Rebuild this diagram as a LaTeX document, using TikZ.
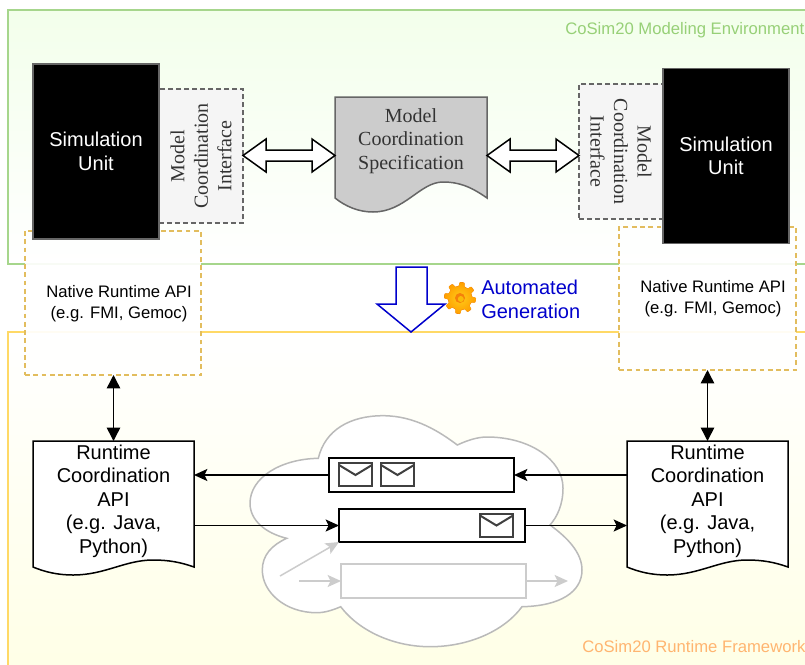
\documentclass[tikz,border=0pt]{standalone}
\usepackage{fontspec}
\setmainfont{Liberation Sans}
\newfontfamily\serifx{Liberation Serif}
\usetikzlibrary{arrows.meta,calc}
\definecolor{grn}{HTML}{A6D68C}
\definecolor{grntxt}{HTML}{97D077}
\definecolor{ylw}{HTML}{FFD966}
\definecolor{orgtxt}{HTML}{FFB570}
\definecolor{gold}{HTML}{E2BD5E}
\definecolor{dgray}{HTML}{666666}
\definecolor{ltgray}{HTML}{CCCCCC}
\definecolor{ifill}{HTML}{F5F5F5}
\definecolor{txt}{HTML}{333333}
\definecolor{blu}{HTML}{0000CC}
\tikzset{
  sz/.style 2 args={minimum width=#1*0.75pt,minimum height=#2*0.75pt,inner sep=0pt,outer sep=0pt},
  px/.style={line width=#1*0.75pt},
  native/.style={draw=gold,px=1.5,dash pattern=on 3.6pt off 2.6pt,fill=white,fill opacity=.92,draw opacity=1},
  simunit/.style={draw=dgray,px=1.5,fill=black,text=white,align=center,font=\fontsize{15}{17.6}\selectfont},
  iface/.style={draw=dgray,px=1.5,dash pattern=on 3.4pt off 2.6pt,fill=ifill},
  ifacetxt/.style={text=txt,align=center,inner sep=0pt,font=\serifx\fontsize{15}{17.6}\selectfont},
  small/.style={align=center,inner sep=0pt,font=\fontsize{12.5}{15.5}\selectfont},
  doctxt/.style={align=center,inner sep=0pt,font=\fontsize{15}{17.6}\selectfont},
  docbody/.style={draw=black,px=1.5,fill=white},
  flow/.style={draw=black,px=1.5,-{Stealth[length=10pt,width=9pt,inset=2.2pt]}},
  bothway/.style={draw=black,px=1.5,{Triangle[length=10pt,width=10pt]}-{Triangle[length=10pt,width=10pt]}},
  grayflow/.style={draw=ltgray,px=1.5,-{Stealth[length=10pt,width=9pt,inset=2.2pt]}},
  queue/.style={draw=black,px=1.5,fill=white},
  envbox/.style={draw=black!75,px=2,fill=white},
  hollow/.style={draw=black,px=1.5,fill=white,line join=miter},
  envtitle/.style={inner sep=0pt,font=\fontsize{12.5}{15}\selectfont},
}
\newcommand{\hollowarrow}[2]{%
  \draw[hollow] (#1) -- ++(23,-16.5) -- ++(0,11) -- ($(#2)+(-23,-5.5)$) -- ++(0,-11) -- (#2)
    -- ++(-23,16.5) -- ++(0,-11) -- ($(#1)+(23,5.5)$) -- ++(0,11) -- cycle;}
\newcommand{\envelope}[2]{%
  \node[envbox,sz={33}{23}] (#1) at (#2) {};
  \draw[draw=black!75,px=2] ($(#1.north west)+(0,2)$) -- ($(#1.center)+(0,0.5)$) -- ($(#1.north east)+(0,2)$);}
\begin{document}
\begin{tikzpicture}[x=0.75pt,y=-0.75pt]
\clip (0,0) rectangle (805,664);
\fill[white] (0,0) rectangle (805,664);
% environments
\path[draw=grn,px=1.8,top color=green!5!white!97!yellow,bottom color=white] (8,10) rectangle (815,264);
\path[draw=ylw,px=1.8,top color=white,bottom color=yellow!10!white] (8,332) rectangle (815,680);
\node[envtitle,text=grntxt,anchor=west] (titleA) at (565,30) {CoSim20 Modeling Environment};
\node[envtitle,text=orgtxt,anchor=west] (titleB) at (582,647) {CoSim20 Runtime Framework};
% native
\node[native,sz={176}{144}] (natL) at (113,303) {};
\node[native,sz={177}{143}] (natR) at (707.5,298.5) {};
\node[small] (natLt) at (119,304) {Native Runtime API\\(e.g. FMI, Gemoc)};
\node[small] (natRt) at (713,299) {Native Runtime API\\(e.g. FMI, Gemoc)};
% interfaces
\node[iface,sz={84}{134}] (ifL) at (201,156) {};
\node[iface,sz={84}{135}] (ifR) at (621,151.5) {};
\node[ifacetxt,rotate=90] (ifLt) at (ifL.center) {Model\\Coordination\\Interface};
\node[ifacetxt,rotate=-90] (ifRt) at (ifR.center) {Model\\Coordination\\Interface};
% simulation units
\node[simunit,sz={126}{175}] (simL) at (96,151.5) {Simulation\\Unit};
\node[simunit,sz={126}{175}] (simR) at (726,156) {Simulation\\Unit};
% specification document
\node[sz={152}{88}] (spec) at (411,141) {};
\draw[draw=dgray,px=1.5,fill=ltgray] (spec.north west) -- (spec.north east) -- (487,198)
  .. controls (470,186) and (458,182) .. (443,182)
  .. controls (420,182) and (405,212) .. (373,212)
  .. controls (358,212) and (345,206) .. (335,198) -- cycle;
\node[ifacetxt] (spect) at (spec.center) {Model\\Coordination\\Specification};
% hollow double arrows
\coordinate (yarrow) at (0,155.5);
\coordinate (a1) at (ifL.east |- yarrow);
\coordinate (a2) at (spec.west |- yarrow);
\coordinate (a3) at (spec.east |- yarrow);
\coordinate (a4) at (ifR.west |- yarrow);
\hollowarrow{a1}{a2}
\hollowarrow{a3}{a4}
% generation arrow
\coordinate (gen) at (411,332);
\draw[draw=blu,px=1.5,fill=white,line join=miter] (gen) -- (445,304) -- (427,304) -- (427,267) -- (396,267) -- (396,304) -- (377,304) -- cycle;
\begin{scope}[shift={(460,298)}]
  \fill[black!0!orange!70!brown] (1,1.5) plot[domain=0:360,samples=145] ({\x+8}:{12.2+3.8*min(1,max(0,0.5+1.5*cos(8*(\x))))}) -- cycle;
  \shade[inner color=yellow!55!orange!90!white,outer color=orange!75!yellow] plot[domain=0:360,samples=145] ({\x+8}:{11.8+3.8*min(1,max(0,0.5+1.5*cos(8*(\x))))}) -- cycle;
  \fill[orange!85!brown] (0,0) circle[radius=5];
  \fill[yellow!50!orange] (0.8,1) circle[radius=3];
\end{scope}
\node[doctxt,text=blu,align=left,anchor=west] (genlabel) at (481,299.5) {Automated\\Generation};
% runtime documents
\node[sz={161}{120}] (docL) at (113.5,501) {};
\node[sz={161}{120}] (docR) at (707.5,501) {};
\draw[docbody] (docL.north west) -- (docL.north east) -- (194,567)
  .. controls (180,562) and (168,560) .. (153,560)
  .. controls (125,560) and (105,575) .. (73,575)
  .. controls (58,575) and (45,572) .. (33,567) -- cycle;
\draw[docbody] (docR.north west) -- (docR.north east) -- (788,567)
  .. controls (774,562) and (762,560) .. (747,560)
  .. controls (719,560) and (699,575) .. (667,575)
  .. controls (652,575) and (639,572) .. (627,567) -- cycle;
\node[doctxt] (docLt) at (docL.center) {Runtime\\Coordination\\API\\(e.g. Java,\\Python)};
\node[doctxt] (docRt) at (docR.center) {Runtime\\Coordination\\API\\(e.g. Java,\\Python)};
% vertical links
\draw[bothway] (docL.north |- natL.south) -- (docL.north);
\draw[bothway] (docR.north |- natR.south) -- (docR.north);
% cloud
\path[draw=black!27,px=1.5,fill=white] (318.3,458.3)
  .. controls (325,430) and (350,415.7) .. (383,415.7)
  .. controls (415,415.7) and (440,432) .. (457.3,445)
  .. controls (468,440) and (478,437) .. (487,437)
  .. controls (530,437) and (563,460) .. (563,488)
  .. controls (563,505) and (557,517) .. (550,525)
  .. controls (568,538) and (582,553) .. (582,570)
  .. controls (582,592) and (560,606) .. (522,606.7)
  .. controls (505,630) and (470,646.7) .. (430,646.7)
  .. controls (395,646.7) and (360,632) .. (340.7,606.7)
  .. controls (333,610) and (325,612.7) .. (316.7,612.7)
  .. controls (285,612.7) and (262.3,592) .. (262.3,570)
  .. controls (262.3,555) and (272,545) .. (286.7,538.3)
  .. controls (265,533) and (250,520) .. (250,503.3)
  .. controls (250,478) and (280,459) .. (318.3,458.3) -- cycle;
% queues
\node[queue,sz={185}{34}] (q1) at (421.5,475) {};
\node[queue,sz={186}{33}] (q2) at (432,525.5) {};
\node[draw=ltgray,px=1.5,fill=white,sz={185}{34}] (q3) at (433.5,581) {};
\envelope{e1}{355.5,474.5}
\envelope{e2}{397.5,474.5}
\envelope{e3}{496.5,525}
% message flows
\draw[flow] (docR.west |- q1.east) -- (q1.east);
\draw[flow] (q1.west) -- (q1.west -| docL.east);
\draw[flow] (docL.east |- q2.west) -- (q2.west);
\draw[flow] (q2.east) -- (q2.east -| docR.west);
\coordinate (g1) at (299,581);
\coordinate (g2) at (568,581);
\coordinate (g3) at (280,576);
\draw[grayflow] (g1) -- (q3.west);
\draw[grayflow] (q3.east) -- (g2);
\draw[grayflow] (g3) -- (q2.south west);
\end{tikzpicture}
\end{document}
